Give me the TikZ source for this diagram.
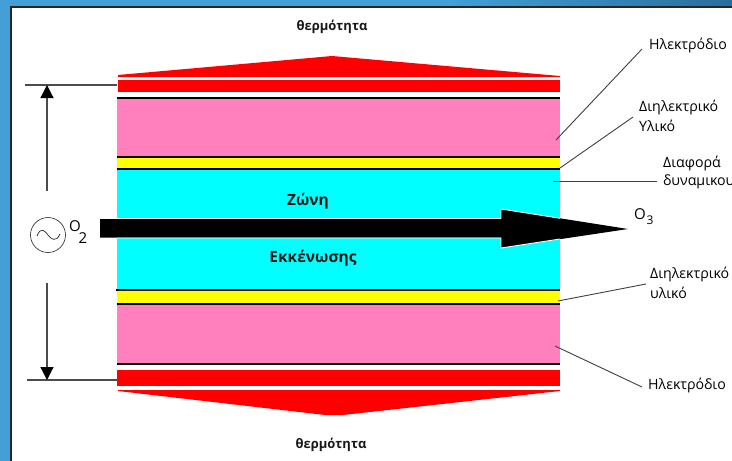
\documentclass[tikz,border=0pt]{standalone}
\usepackage{fontspec}
\setmainfont{Open Sans}
\usetikzlibrary{arrows.meta}
\definecolor{framea}{HTML}{439FD6}
\definecolor{frameb}{HTML}{2A6E9E}
\definecolor{pinkfill}{HTML}{FF80BC}
\definecolor{purecyan}{RGB}{0,255,255}
\definecolor{purered}{RGB}{255,0,0}
\definecolor{pureyellow}{RGB}{255,255,0}
\tikzset{
  x=1pt,y=-1pt,
  blackline/.style={line width=2pt,black},
  leader/.style={line width=0.9pt,black!75},
  dimline/.style={line width=1.2pt,black!70},
  dimarrow/.style={dimline,-{Triangle[length=13pt,width=13pt,black]}},
  lbl/.style={font=\fontsize{14.2}{15}\selectfont,inner sep=0pt,anchor=west,text=black},
  heat/.style={font=\fontsize{13}{15}\selectfont\bfseries,inner sep=0pt,text=black!90},
  zone/.style={font=\fontsize{15.5}{16}\selectfont\bfseries,inner sep=0pt,text=black!90},
  gas/.style={font=\fontsize{15}{18}\selectfont,inner sep=0pt,text=black},
}
\begin{document}
\begin{tikzpicture}
\useasboundingbox (0,0) rectangle (732,461);
% frame
\fill[framea] (0,0) rectangle (732,461);
\shade[left color=framea,right color=frameb] (450,0) rectangle (732,7);
\fill[white] (11,7) rectangle (732,461);
\draw[line width=1.4pt,black!85] (11,461) -- (11,7) -- (732,7);
% heat wedges
\fill[purered] (118,75) -- (332,56) -- (560,76) -- (560,77) -- (118,77) -- cycle;
\fill[purered] (118,391) -- (325,415) -- (343,415) -- (560,391) -- (560,390) -- (118,390) -- cycle;
% layers
\fill[purered] (118,80) rectangle (560,92);
\fill[pinkfill] (117,98) rectangle (560,157);
\fill[pureyellow] (117,157) rectangle (560,168);
\fill[purecyan] (117,169) rectangle (560,289);
\fill[pureyellow] (117,290) rectangle (560,303);
\fill[pinkfill] (117,304) rectangle (560,363);
\fill[purered] (117,370) rectangle (560,386);
\draw[blackline] (117,98) -- (560,98);
\draw[blackline] (117,168.5) -- (560,168.5);
\draw[blackline] (116,289.5) -- (560,289.5);
\draw[blackline] (117,303.5) -- (560,303.5);
\draw[blackline] (117,363.5) -- (560,363.5);
\draw[blackline] (117,157) -- (560,157);
% big arrow
\fill[black] (100,219) -- (501,219) -- (501,209) -- (628,229) -- (501,248) -- (501,237.5) -- (100,237.5) -- cycle;
\draw[white,line width=0.9pt] (117,218.5) -- (501,218.5) -- (501,209) -- (560,218.3);
\draw[white,line width=0.9pt] (117,238) -- (501,238) -- (501,248) -- (560,239);
% dimension
\coordinate (dimtopl) at (25,85);
\coordinate (dimtopr) at (117,85);
\coordinate (dimbotl) at (27,380);
\coordinate (dimbotr) at (117,380);
\coordinate (dimtop) at (47,85);
\coordinate (dimbot) at (47,380);
\coordinate (dimup) at (47,191);
\coordinate (dimdn) at (47,283);
\draw[dimline] (dimtopl) -- (dimtopr);
\draw[dimline] (dimbotl) -- (dimbotr);
\draw[dimarrow] (dimup) -- (dimtop);
\draw[dimarrow] (dimdn) -- (dimbot);
% AC source
\node[circle,draw=black!85,line width=0.6pt,minimum size=35pt,inner sep=0pt] (src) at (48,235) {};
\draw[line width=0.7pt,black!85] (37,236) .. controls (41,226) and (45,231) .. (48,235) .. controls (51,239) and (56,243) .. (60,234);
\node[gas] (otwo) at (75,226) {O};
\node[gas] (ttwo) at (83,238) {2};
\node[gas] (othree) at (640,214) {O};
\node[font=\fontsize{12}{12}\selectfont,inner sep=0pt,text=black] (tthree) at (650,220.5) {3};
% zone text
\node[zone] (zonea) at (308,201) {Ζώνη};
\node[zone] (zoneb) at (313,258) {Εκκένωσης};
\node[heat] (heata) at (332,27) {θερμότητα};
\node[heat] (heatb) at (331,445) {θερμότητα};
% labels
\node[lbl] (la) at (649,45) {Ηλεκτρόδιο};
\node[lbl] (lb) at (639,107) {Διηλεκτρικό};
\node[lbl] (lc) at (639,126) {Υλικό};
\node[lbl] (ld) at (663,163) {Διαφορά};
\node[lbl] (le) at (663,182) {δυναμικου};
\node[lbl] (lf) at (650,274) {Διηλεκτρικό};
\node[lbl] (lg) at (650,293) {υλικό};
\node[lbl] (lh) at (648,385) {Ηλεκτρόδιο};
% leaders
\coordinate (pa) at (556,140);
\coordinate (pb) at (560,168);
\coordinate (pc) at (553,181);
\coordinate (pd) at (558,301);
\coordinate (pe) at (555,346);
\draw[leader] (642,49) coordinate (qa) -- (pa);
\draw[leader] (633,117) coordinate (qb) -- (pb);
\draw[leader] (657,181) coordinate (qc) -- (pc);
\draw[leader] (646,284) coordinate (qd) -- (pd);
\draw[leader] (642,387) coordinate (qe) -- (pe);
\end{tikzpicture}
\end{document}
